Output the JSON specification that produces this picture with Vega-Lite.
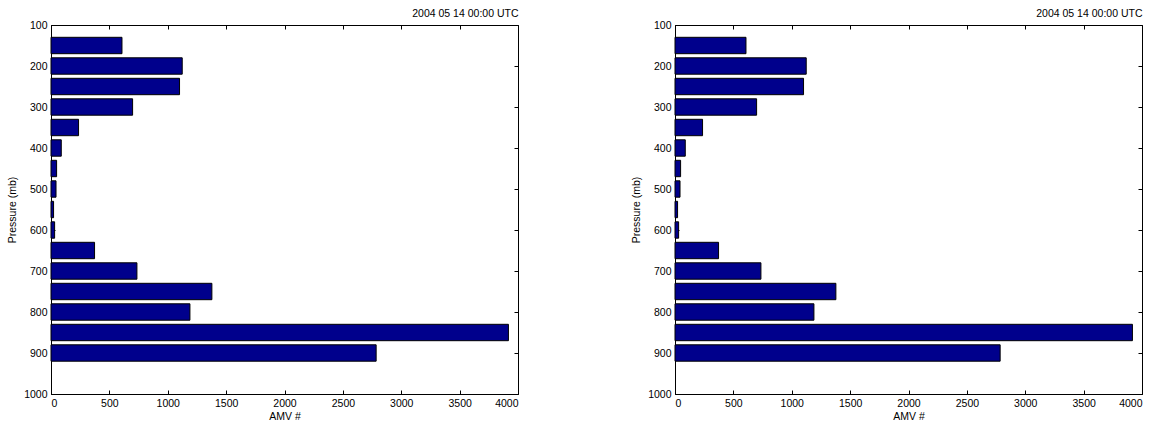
{
  "$schema": "https://vega.github.io/schema/vega-lite/v6.json",
  "padding": {"left": 7, "top": 8, "right": 5, "bottom": 5},
  "background": "white",
  "config": {
    "font": "Liberation Sans",
    "view": {"stroke": "#000", "strokeWidth": 1},
    "axis": {"labelFont": "Liberation Sans", "labelFontSize": 10.5, "labelColor": "#000", "titleFont": "Liberation Sans", "titleFontSize": 10.5, "titleFontWeight": "normal", "titleColor": "#000", "grid": false, "domainColor": "#000", "tickColor": "#000", "tickSize": -4, "labelPadding": 8, "format": "d"},
    "title": {"font": "Liberation Sans", "fontSize": 10.5, "fontWeight": "normal", "color": "#000", "anchor": "end", "offset": 0, "dy": 3}
  },
  "datasets": {
    "amv": [
      {"pressure": 150, "count": 608},
      {"pressure": 200, "count": 1124},
      {"pressure": 250, "count": 1101},
      {"pressure": 300, "count": 699},
      {"pressure": 350, "count": 236},
      {"pressure": 400, "count": 88},
      {"pressure": 450, "count": 48},
      {"pressure": 500, "count": 43},
      {"pressure": 550, "count": 22},
      {"pressure": 600, "count": 31},
      {"pressure": 650, "count": 373},
      {"pressure": 700, "count": 736},
      {"pressure": 750, "count": 1378},
      {"pressure": 800, "count": 1190},
      {"pressure": 850, "count": 3918},
      {"pressure": 900, "count": 2785}
    ]
  },
  "hconcat": [
    {
      "width": 467, "height": 369,
      "title": "2004 05 14 00:00 UTC",
      "data": {"name": "amv"},
      "layer": [
        {
          "mark": {"type": "bar", "orient": "horizontal", "height": 16.4, "fill": "#00008c", "stroke": "#000", "strokeWidth": 1},
          "encoding": {
            "x": {"field": "count", "type": "quantitative", "scale": {"domain": [0, 4000], "nice": false, "padding": 0}, "axis": {"orient": "bottom", "values": [0,500,1000,1500,2000,2500,3000,3500,4000], "title": "AMV #", "titlePadding": 3}},
            "y": {"field": "pressure", "type": "quantitative", "scale": {"domain": [100, 1000], "reverse": true, "nice": false, "padding": 0}, "axis": {"orient": "left", "values": [100,200,300,400,500,600,700,800,900,1000], "title": "Pressure (mb)", "titlePadding": 6}}
          }
        },
        {
          "mark": {"type": "bar", "orient": "horizontal", "height": 16.4, "opacity": 0},
          "encoding": {
            "x": {"field": "count", "type": "quantitative", "axis": {"orient": "top", "values": [0,500,1000,1500,2000,2500,3000,3500,4000], "labels": false, "title": null, "domain": false}},
            "y": {"field": "pressure", "type": "quantitative", "axis": {"orient": "right", "values": [100,200,300,400,500,600,700,800,900,1000], "labels": false, "title": null, "domain": false}}
          }
        }
      ],
      "resolve": {"axis": {"x": "independent", "y": "independent"}}
    },
    {
      "width": 467, "height": 369,
      "title": "2004 05 14 00:00 UTC",
      "data": {"name": "amv"},
      "layer": [
        {
          "mark": {"type": "bar", "orient": "horizontal", "height": 16.4, "fill": "#00008c", "stroke": "#000", "strokeWidth": 1},
          "encoding": {
            "x": {"field": "count", "type": "quantitative", "scale": {"domain": [0, 4000], "nice": false, "padding": 0}, "axis": {"orient": "bottom", "values": [0,500,1000,1500,2000,2500,3000,3500,4000], "title": "AMV #", "titlePadding": 3}},
            "y": {"field": "pressure", "type": "quantitative", "scale": {"domain": [100, 1000], "reverse": true, "nice": false, "padding": 0}, "axis": {"orient": "left", "values": [100,200,300,400,500,600,700,800,900,1000], "title": "Pressure (mb)", "titlePadding": 6}}
          }
        },
        {
          "mark": {"type": "bar", "orient": "horizontal", "height": 16.4, "opacity": 0},
          "encoding": {
            "x": {"field": "count", "type": "quantitative", "axis": {"orient": "top", "values": [0,500,1000,1500,2000,2500,3000,3500,4000], "labels": false, "title": null, "domain": false}},
            "y": {"field": "pressure", "type": "quantitative", "axis": {"orient": "right", "values": [100,200,300,400,500,600,700,800,900,1000], "labels": false, "title": null, "domain": false}}
          }
        }
      ],
      "resolve": {"axis": {"x": "independent", "y": "independent"}}
    }
  ],
  "spacing": 112
}
